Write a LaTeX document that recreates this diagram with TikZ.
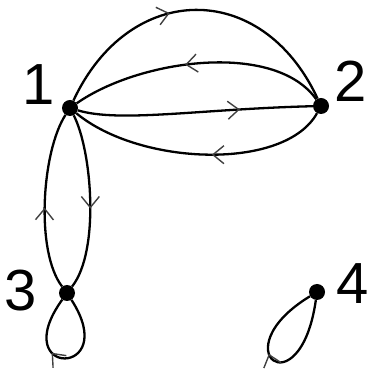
\documentclass[tikz,border=0pt]{standalone}
\usepackage{fontspec}
\setmainfont{Liberation Sans}
\usetikzlibrary{arrows.meta,decorations.markings}

\begin{document}
\begin{tikzpicture}[x=1pt,y=1pt,
  vertex/.style={circle,fill=black,inner sep=0pt,minimum size=16pt},
  lbl/.style={inner sep=0pt,font=\fontsize{58}{60}\selectfont},
  edge/.style={line width=2.3pt},
  tipat/.style={postaction={decorate},decoration={markings,
    mark=at position #1 with {\arrow{Straight Barb[length=11pt,width=18pt,line width=1.4pt,color=gray!50!black]}}}}]
\useasboundingbox (0,0) rectangle (369,371);
\node[vertex] (n1) at (70,263) {};
\node[vertex] (n2) at (321,265) {};
\node[vertex] (n3) at (67,78) {};
\node[vertex] (n4) at (317,79) {};
\node[lbl] (l1) at (39,286) {1};
\node[lbl] (l2) at (351,290) {2};
\node[lbl] (l3) at (21,80) {3};
\node[lbl] (l4) at (353,87) {4};
\draw[edge,tipat=0.42] (n1) .. controls (129,390) and (262,392) .. (n2);
\draw[edge,tipat=0.55] (n2) .. controls (275,330) and (140,312) .. (n1);
\draw[edge,tipat=0.69] (n1) .. controls (120,248) and (200,262) .. (n2);
\draw[edge,tipat=0.45] (n2) .. controls (285,200) and (140,205) .. (n1);
\draw[edge,tipat=0.46] (n3) .. controls (35,120) and (42,220) .. (n1);
\draw[edge,tipat=0.54] (n1) .. controls (92,220) and (100,120) .. (n3);
\draw[edge,tipat=0.6] (n3) .. controls (122,-7) and (6,-7) .. (n3);
\draw[edge,tipat=0.55] (n4) .. controls (300,-40) and (220,20) .. (n4);
\end{tikzpicture}
\end{document}
